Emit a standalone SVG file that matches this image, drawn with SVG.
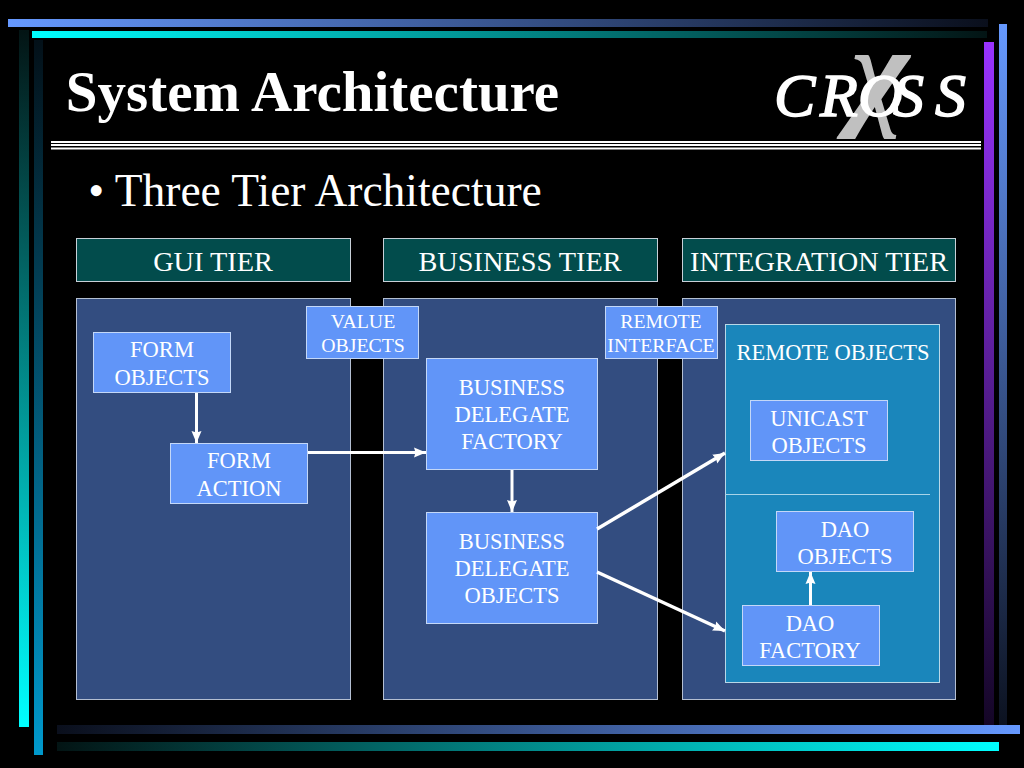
<svg xmlns="http://www.w3.org/2000/svg" width="1024" height="768" viewBox="0 0 1024 768">
<defs>
<linearGradient id="gBlueR" x1="0" x2="1" y1="0" y2="0"><stop offset="0" stop-color="#6699ff"/><stop offset="1" stop-color="#0a0f1c"/></linearGradient>
<linearGradient id="gCyanR" x1="0" x2="1" y1="0" y2="0"><stop offset="0" stop-color="#00ffff"/><stop offset="1" stop-color="#031414"/></linearGradient>
<linearGradient id="gBlueL" x1="0" x2="1" y1="0" y2="0"><stop offset="0" stop-color="#0a0f1c"/><stop offset="1" stop-color="#6699ff"/></linearGradient>
<linearGradient id="gCyanL" x1="0" x2="1" y1="0" y2="0"><stop offset="0" stop-color="#031414"/><stop offset="1" stop-color="#00ffff"/></linearGradient>
<linearGradient id="gCyanD" x1="0" x2="0" y1="0" y2="1"><stop offset="0" stop-color="#031414"/><stop offset="1" stop-color="#00ffff"/></linearGradient>
<linearGradient id="gTealD" x1="0" x2="0" y1="0" y2="1"><stop offset="0" stop-color="#031018"/><stop offset="1" stop-color="#0099cc"/></linearGradient>
<linearGradient id="gPurpleU" x1="0" x2="0" y1="0" y2="1"><stop offset="0" stop-color="#9933ff"/><stop offset="1" stop-color="#140626"/></linearGradient>
<linearGradient id="gBlueU" x1="0" x2="0" y1="0" y2="1"><stop offset="0" stop-color="#6699ff"/><stop offset="1" stop-color="#0c1220"/></linearGradient>
<marker id="arrow" markerUnits="userSpaceOnUse" markerWidth="13" markerHeight="11" refX="12" refY="5.500" orient="auto"><path d="M0 .5L12 5.500L0 10.500L1.500 5.500Z" fill="#fff"/></marker>
</defs>
<style>
text{font-family:"Liberation Serif","Times New Roman",serif;fill:#fff;text-anchor:middle}
.tier{fill:#024c4c;stroke:#c8d0d8;stroke-width:1}
.panel{fill:#334d80;stroke:#b4bfd2;stroke-width:1}
.node{fill:#6195f8;stroke:#c4d8f8;stroke-width:1}
.t28{font-size:28.300px}
.t22{font-size:22.500px}
.t20{font-size:19.800px}
.conn{stroke:#fff;stroke-width:3;fill:none;marker-end:url(#arrow)}
.diag{stroke-width:3.500}
</style>
<rect width="1024" height="768" fill="#000"/>
<g id="frame">
<rect x="19" y="30" width="10" height="697" fill="url(#gCyanD)"/>
<rect x="34" y="40" width="9" height="715" fill="url(#gTealD)"/>
<rect x="984" y="42" width="10" height="683" fill="url(#gPurpleU)"/>
<rect x="999" y="24" width="8" height="701" fill="url(#gBlueU)"/>
<rect x="8" y="19" width="980" height="8" fill="url(#gBlueR)"/>
<rect x="32" y="31" width="955" height="7" fill="url(#gCyanR)"/>
<rect x="57" y="725" width="963" height="9" fill="url(#gBlueL)"/>
<rect x="57" y="742" width="942" height="9" fill="url(#gCyanL)"/>
<rect x="51" y="141" width="930" height="2" fill="#fff"/>
<rect x="51" y="144" width="930" height="2" fill="#fff"/>
<rect x="51" y="147.500" width="930" height="2" fill="#fff"/>
</g>
<g id="title">
<text x="312.500" y="111" font-size="57" font-weight="bold">System Architecture</text>
<text x="315" y="205.500" font-size="45.500">• Three Tier Architecture</text>
</g>
<g id="logo">
<text x="880" y="112" font-size="125" font-weight="bold" font-style="italic" style="fill:#c0c0c0">χ</text>
<text x="774 820 858 893 935" y="116" font-size="62" font-style="italic" stroke="#fff" stroke-width="1.500" style="text-anchor:start">CROSS</text>
</g>
<g id="panel-gui"><rect class="panel" x="76.500" y="298.500" width="274" height="401"/></g>
<g id="panel-business"><rect class="panel" x="383.500" y="298.500" width="274" height="401"/></g>
<g id="panel-integration"><rect class="panel" x="682.500" y="298.500" width="273" height="401"/></g>
<g id="tier-gui"><rect class="tier" x="76.500" y="238.500" width="274" height="43"/><text class="t28" x="213" y="270.500">GUI TIER</text></g>
<g id="tier-business"><rect class="tier" x="383.500" y="238.500" width="274" height="43"/><text class="t28" x="520" y="270.500">BUSINESS TIER</text></g>
<g id="tier-integration"><rect class="tier" x="682.500" y="238.500" width="273" height="43"/><text class="t28" x="819" y="270.500">INTEGRATION TIER</text></g>
<g id="remote-objects">
<rect x="725.500" y="324.500" width="214" height="358" fill="#1a86bb" stroke="#b8d8e8"/>
<line x1="725" y1="494.500" x2="930" y2="494.500" stroke="#a8d4e8" stroke-width="1"/>
<text class="t22" x="833" y="360">REMOTE OBJECTS</text>
</g>
<g id="value-objects"><rect class="node" x="306.500" y="306.500" width="112" height="52"/><text class="t20" x="363" y="328">VALUE</text><text class="t20" x="363" y="352">OBJECTS</text></g>
<g id="remote-interface"><rect class="node" x="605.500" y="306.500" width="112" height="52"/><text class="t20" x="661" y="328">REMOTE</text><text class="t20" x="661" y="352">INTERFACE</text></g>
<g id="form-objects"><rect class="node" x="93.500" y="332.500" width="137" height="60"/><text class="t22" x="162" y="357">FORM</text><text class="t22" x="162" y="385">OBJECTS</text></g>
<g id="form-action"><rect class="node" x="170.500" y="443.500" width="137" height="60"/><text class="t22" x="239" y="468">FORM</text><text class="t22" x="239" y="496">ACTION</text></g>
<g id="bd-factory"><rect class="node" x="426.500" y="358.500" width="171" height="111"/><text class="t22" x="512" y="395">BUSINESS</text><text class="t22" x="512" y="422">DELEGATE</text><text class="t22" x="512" y="449">FACTORY</text></g>
<g id="bd-objects"><rect class="node" x="426.500" y="512.500" width="171" height="111"/><text class="t22" x="512" y="549">BUSINESS</text><text class="t22" x="512" y="576">DELEGATE</text><text class="t22" x="512" y="603">OBJECTS</text></g>
<g id="unicast-objects"><rect class="node" x="750.500" y="400.500" width="137" height="60"/><text class="t22" x="819" y="426">UNICAST</text><text class="t22" x="819" y="453">OBJECTS</text></g>
<g id="dao-objects"><rect class="node" x="776.500" y="511.500" width="137" height="60"/><text class="t22" x="845" y="537">DAO</text><text class="t22" x="845" y="564">OBJECTS</text></g>
<g id="dao-factory"><rect class="node" x="742.500" y="605.500" width="137" height="60"/><text class="t22" x="810" y="631">DAO</text><text class="t22" x="810" y="658">FACTORY</text></g>
<g id="connectors">
<line class="conn" x1="196.500" y1="393" x2="196.500" y2="443"/>
<line class="conn" x1="308" y1="452.500" x2="426" y2="452.500"/>
<line class="conn" x1="512" y1="470" x2="512" y2="512"/>
<line class="conn diag" x1="597" y1="529" x2="725" y2="453"/>
<line class="conn diag" x1="597" y1="572" x2="725" y2="631"/>
<line class="conn" x1="810.500" y1="605" x2="810.500" y2="572"/>
</g>
</svg>
